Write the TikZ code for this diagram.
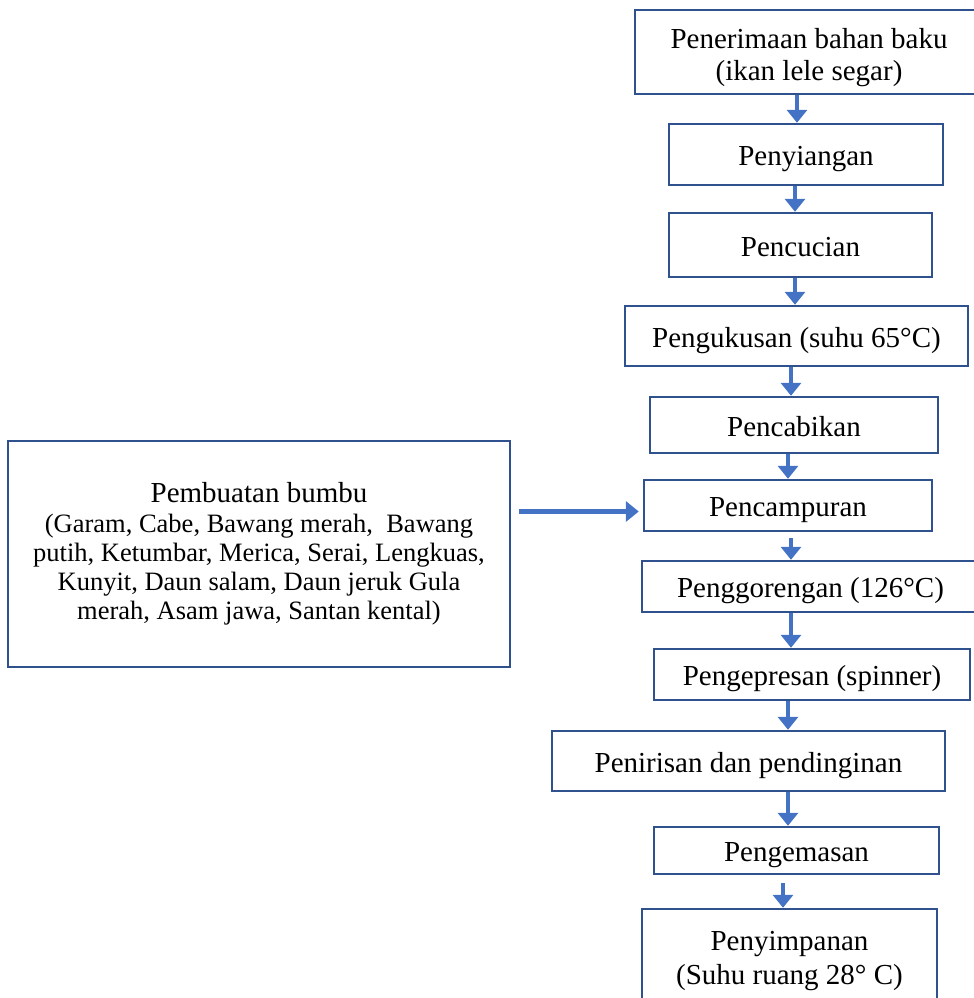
\documentclass[tikz,border=0pt]{standalone}
\usepackage{fontspec}
\setmainfont{Liberation Serif}
\usetikzlibrary{arrows.meta}
\definecolor{boxblue}{HTML}{2F528F}
\definecolor{arrowblue}{HTML}{4472C4}
\begin{document}
\begin{tikzpicture}[
  x=0.5pt, y=-0.5pt,
  tall box/.style={rectangle, draw=boxblue, line width=1.2pt, inner sep=0pt, align=center,
    font=\fontsize{14.5}{16}\selectfont},
  step box/.style={tall box, text height=14pt, text depth=3pt},
  flow/.style={draw=arrowblue, line width=2.2pt, -{Triangle[width=10pt,length=6.5pt]}}
]
\useasboundingbox (0,0) rectangle (974,998);
\clip (0,0) rectangle (974,998);
\coordinate (axis) at (791,0);

\node[tall box, minimum width=174pt, minimum height=42pt] (recv) at (809,52) {\rule{0pt}{16pt}Penerimaan bahan baku\\(ikan lele segar)};
\node[step box, minimum width=137pt, minimum height=30.5pt] (weed) at (806,154.5) {Penyiangan};
\node[step box, minimum width=131.5pt, minimum height=32pt] (wash) at (800.5,245) {Pencucian};
\node[step box, minimum width=171.5pt, minimum height=30pt] (steam) at (796.5,336) {Pengukusan (suhu 65°C)};
\node[step box, minimum width=144pt, minimum height=28pt] (shred) at (794,425) {Pencabikan};
\node[step box, minimum width=144pt, minimum height=25.5pt] (mix) at (788,505.5) {Pencampuran};
\node[step box, minimum width=168.5pt, minimum height=25.5pt] (fry) at (810.5,586.5) {Penggorengan (126°C)};
\node[step box, minimum width=158pt, minimum height=25.5pt] (press) at (812,674.5) {Pengepresan (spinner)};
\node[step box, minimum width=196.5pt, minimum height=30pt] (drain) at (748.5,761) {Penirisan dan pendinginan};
\node[step box, minimum width=142.5pt, minimum height=23.5pt] (pack) at (796.5,850.5) {Pengemasan};
\node[tall box, minimum width=147.5pt, minimum height=49pt] (store) at (789.5,958) {\rule{0pt}{13pt}Penyimpanan\\[1pt](Suhu ruang 28° C)};

\node[tall box, font=\fontsize{13.25}{14.5}\selectfont, minimum width=251pt, minimum height=113pt] (spice) at (259,554)
  {{\fontsize{14.5}{16}\selectfont Pembuatan bumbu}\\[0.5pt]
  (Garam, Cabe, Bawang merah,~~Bawang\\
  putih, Ketumbar, Merica, Serai, Lengkuas,\\
  Kunyit, Daun salam, Daun jeruk Gula\\
  merah, Asam jawa, Santan kental)};

\draw[flow] ([xshift=3pt]recv.south -| axis) -- ([xshift=3pt]weed.north -| axis);
\draw[flow] ([xshift=2pt]weed.south -| axis) -- ([xshift=2pt]wash.north -| axis);
\draw[flow] ([xshift=2pt]wash.south -| axis) -- ([xshift=2pt]steam.north -| axis);
\draw[flow] (steam.south -| axis) -- (shred.north -| axis);
\draw[flow] ([xshift=-1.5pt]shred.south -| axis) -- ([xshift=-1.5pt]mix.north -| axis);
\draw[flow, shorten <=3pt] (mix.south -| axis) -- (fry.north -| axis);
\draw[flow] (fry.south -| axis) -- (press.north -| axis);
\draw[flow] ([xshift=-1.5pt]press.south -| axis) -- ([xshift=-1.5pt]drain.north -| axis);
\draw[flow] ([xshift=-1.5pt]drain.south -| axis) -- ([xshift=-1.5pt]pack.north -| axis);
\draw[flow, shorten <=4pt] ([xshift=-4pt]pack.south -| axis) -- ([xshift=-4pt]store.north -| axis);
\draw[flow, shorten <=4pt, shorten >=2pt] ([yshift=-3pt]spice.east |- mix.west) -- ([yshift=-3pt]mix.west);
\end{tikzpicture}
\end{document}
